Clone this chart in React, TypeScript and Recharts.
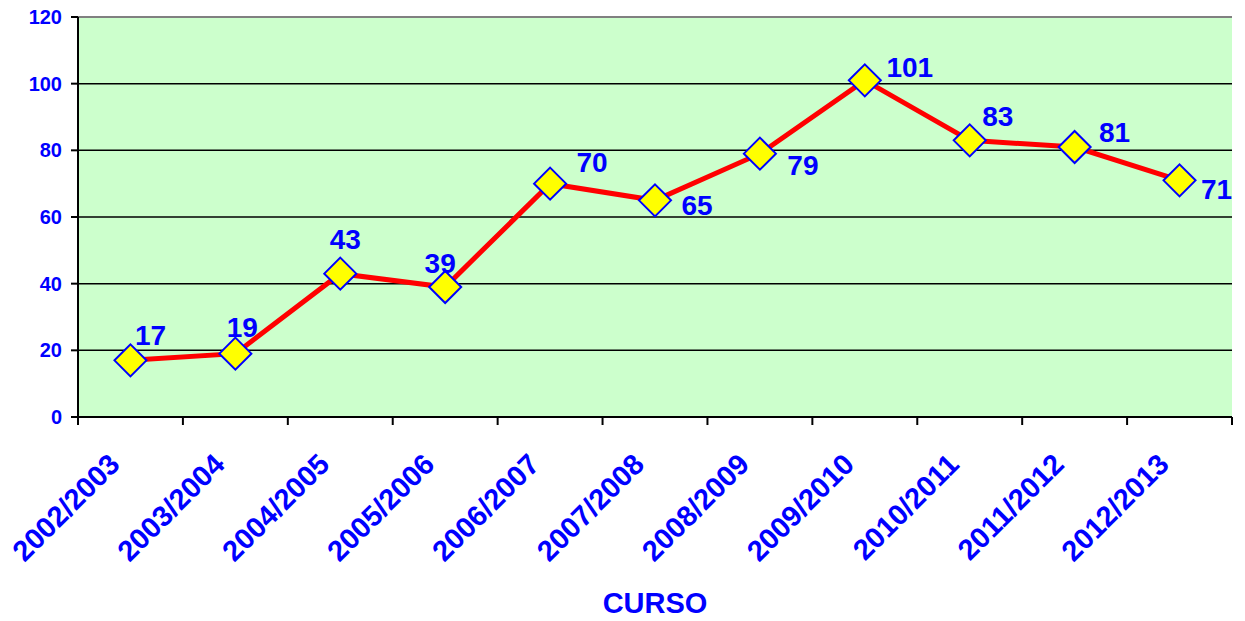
import React from "react";
import {
  LineChart,
  Line,
  XAxis,
  YAxis,
  CartesianGrid,
  ReferenceLine,
  LabelList,
  Label,
} from "recharts";

const cursos = [
  "2002/2003",
  "2003/2004",
  "2004/2005",
  "2005/2006",
  "2006/2007",
  "2007/2008",
  "2008/2009",
  "2009/2010",
  "2010/2011",
  "2011/2012",
  "2012/2013",
];
const valores = [17, 19, 43, 39, 70, 65, 79, 101, 83, 81, 71];
const yTicks = [0, 20, 40, 60, 80, 100, 120];

// label nudges (px) relative to each point, as placed in the original
const labelOffsets: [number, number][] = [
  [20, -25],
  [7, -26],
  [5, -34],
  [-5, -24],
  [42, -21],
  [42, 5],
  [43, 12],
  [45, -13],
  [28, -24],
  [40, -15],
  [37, 9],
];

const data = cursos.map((curso, i) => ({ curso, valor: valores[i] }));

const W = 1245;
const H = 621;
const LEFT = 78;
const RIGHT = 13;
const HALF_BAND = (W - LEFT - RIGHT) / cursos.length / 2;
const BLUE = "#0000FF";
const FONT = "Arial, 'Liberation Sans', sans-serif";

function Diamond(props: any) {
  const { cx, cy } = props;
  if (cx == null || cy == null) return null;
  const r = 16;
  return (
    <polygon
      points={`${cx},${cy - r} ${cx + r},${cy} ${cx},${cy + r} ${cx - r},${cy}`}
      fill="#FFFF00"
      stroke={BLUE}
      strokeWidth={2}
    />
  );
}

// category label + tick marks between categories (Excel style)
function CursoTick(props: any) {
  const { x, y, payload, index } = props;
  const last = index === cursos.length - 1;
  return (
    <g>
      <line x1={x - HALF_BAND} x2={x - HALF_BAND} y1={y} y2={y + 8} stroke="#000" strokeWidth={2} />
      {last && (
        <line x1={x + HALF_BAND} x2={x + HALF_BAND} y1={y} y2={y + 8} stroke="#000" strokeWidth={2} />
      )}
      <g transform={`translate(${x - 9},${y + 49}) rotate(-45)`}>
        <text
          x={0}
          y={0}
          textAnchor="end"
          fill={BLUE}
          fontSize={29}
          fontWeight="bold"
          fontFamily={FONT}
        >
          {payload.value}
        </text>
      </g>
    </g>
  );
}

function ValueLabel(props: any) {
  const { x, y, value, index } = props;
  const [dx, dy] = labelOffsets[index] || [0, -20];
  return (
    <text
      x={x + dx}
      y={y + dy}
      textAnchor="middle"
      dominantBaseline="central"
      fill={BLUE}
      fontSize={28}
      fontWeight="bold"
      fontFamily={FONT}
    >
      {value}
    </text>
  );
}

export default function App() {
  return (
    <div style={{ position: "absolute", left: 0, top: 0, background: "#fff" }}>
      <LineChart
        width={W}
        height={H}
        data={data}
        margin={{ top: 17, right: RIGHT, bottom: 0, left: 0 }}
      >
        <CartesianGrid
          vertical={false}
          fill="#CCFFCC"
          fillOpacity={1}
          stroke="#000"
          strokeWidth={1.5}
        />
        <XAxis xAxisId="b" type="number" domain={[0, 11]} hide />
        <XAxis
          dataKey="curso"
          height={204}
          padding={{ left: HALF_BAND, right: HALF_BAND }}
          axisLine={{ stroke: "#000", strokeWidth: 2 }}
          tickLine={false}
          tickSize={0}
          tickMargin={0}
          interval={0}
          tick={<CursoTick />}
        >
          <Label
            value="CURSO"
            position="insideBottom"
            offset={8}
            fill={BLUE}
            fontSize={29}
            fontWeight="bold"
            fontFamily={FONT}
          />
        </XAxis>
        <YAxis
          width={78}
          domain={[0, 120]}
          ticks={yTicks}
          axisLine={{ stroke: "#000", strokeWidth: 2 }}
          tickLine={{ stroke: "#000", strokeWidth: 2 }}
          tickSize={7}
          tickMargin={9}
          tick={{ fill: BLUE, fontSize: 20, fontWeight: "bold", fontFamily: FONT }}
        />
        <ReferenceLine y={120} stroke="#808080" strokeWidth={2} />
        <ReferenceLine xAxisId="b" x={11} stroke="#808080" strokeWidth={2} />
        <Line
          type="linear"
          dataKey="valor"
          stroke="#FF0000"
          strokeWidth={5}
          dot={<Diamond />}
          activeDot={false}
          isAnimationActive={false}
        >
          <LabelList dataKey="valor" content={<ValueLabel />} />
        </Line>
      </LineChart>
    </div>
  );
}
